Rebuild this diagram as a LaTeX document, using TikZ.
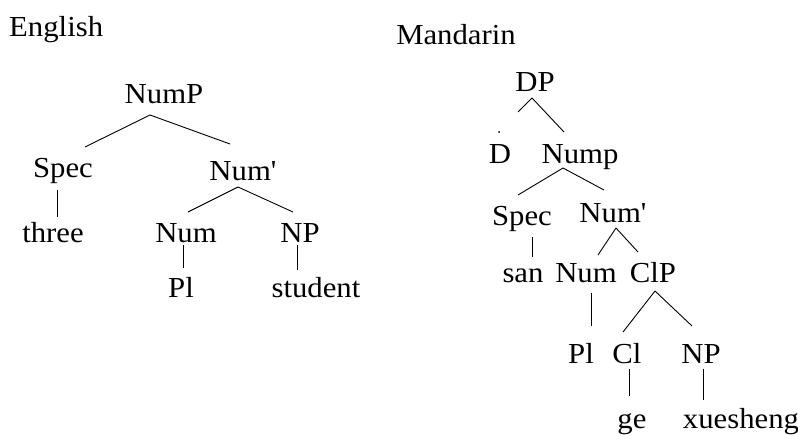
\documentclass[tikz,border=0pt]{standalone}
\usepackage{fontspec}
\newfontfamily\treefont{Liberation Serif}[FakeStretch=1.06]
\usetikzlibrary{calc}
\tikzset{
  lbl/.style={inner sep=0pt, anchor=base, font=\treefont\fontsize{29}{33}\selectfont},
  edge/.style={line width=0.9pt, black}
}
\begin{document}
\begin{tikzpicture}[x=1pt,y=-1pt]
\useasboundingbox (0,0) rectangle (798,436);
% English tree
\node[lbl, anchor=base west] (eng) at (9,37) {English};
\node[lbl] (eNumP) at (164,103) {NumP};
\node[lbl] (eSpec) at (63,177) {Spec};
\node[lbl] (eNumb) at (243,180) {Num'};
\node[lbl] (ethree) at (53,242) {three};
\node[lbl] (eNum) at (186,242) {Num};
\node[lbl] (eNP) at (300,242) {NP};
\node[lbl] (ePl) at (181,297) {Pl};
\node[lbl] (estudent) at (316,297) {student};

\draw[edge] ($(eNumP.base)+(-14,12)$) -- ($(eSpec.base)+(22,-30)$);
\draw[edge] ($(eNumP.base)+(-14,12)$) -- ($(eNumb.base)+(-13,-36)$);
\draw[edge] ($(eSpec.base)+(-6,13)$) -- ($(ethree.base)+(4,-25)$);
\draw[edge] ($(eNumb.base)+(-5,7)$) -- ($(eNum.base)+(2,-30)$);
\draw[edge] ($(eNumb.base)+(-5,7)$) -- ($(eNP.base)+(-7,-30)$);
\draw[edge] ($(eNum.base)+(-3,3)$) -- ($(ePl.base)+(2,-29)$);
\draw[edge] ($(eNP.base)+(-3,3)$) -- ($(estudent.base)+(-19,-27)$);

% Mandarin tree
\node[lbl] (man) at (456,45) {Mandarin};
\node[lbl] (mDP) at (535,92) {DP};
\node[circle, fill=black, inner sep=0pt, minimum size=2pt] (mdot) at (499,132) {};
\node[lbl] (mD) at (500,163) {D};
\node[lbl] (mNump) at (580,163) {Nump};
\node[lbl] (mSpec) at (522,225) {Spec};
\node[lbl] (mNumb) at (613,222) {Num'};
\node[lbl] (msan) at (523,282) {san};
\node[lbl] (mNum) at (586,282) {Num};
\node[lbl] (mClP) at (653,282) {ClP};
\node[lbl] (mPl) at (581,363) {Pl};
\node[lbl] (mCl) at (627,363) {Cl};
\node[lbl] (mNP) at (701,363) {NP};
\node[lbl] (mge) at (632,428) {ge};
\node[lbl] (mxue) at (741,428) {xuesheng};

\draw[edge] ($(mDP.base)+(-3,6)$) -- ($(mD.base)+(18,-51)$);
\draw[edge] ($(mDP.base)+(-3,6)$) -- ($(mNump.base)+(-16,-31)$);
\draw[edge] ($(mNump.base)+(-17,5)$) -- ($(mSpec.base)+(-4,-30)$);
\draw[edge] ($(mNump.base)+(-17,5)$) -- ($(mNumb.base)+(-9,-32)$);
\draw[edge] ($(mSpec.base)+(10,12)$) -- ($(msan.base)+(9,-25)$);
\draw[edge] ($(mNumb.base)+(3,6)$) -- ($(mNum.base)+(12,-27)$);
\draw[edge] ($(mNumb.base)+(3,6)$) -- ($(mClP.base)+(-15,-30)$);
\draw[edge] ($(mNum.base)+(5,11)$) -- ($(mPl.base)+(10,-37)$);
\draw[edge] ($(mClP.base)+(2,9)$) -- ($(mCl.base)+(-4,-31)$);
\draw[edge] ($(mClP.base)+(2,9)$) -- ($(mNP.base)+(-9,-37)$);
\draw[edge] ($(mCl.base)+(2,6)$) -- ($(mge.base)+(-3,-32)$);
\draw[edge] ($(mNP.base)+(2,6)$) -- ($(mxue.base)+(-38,-28)$);
\end{tikzpicture}
\end{document}
